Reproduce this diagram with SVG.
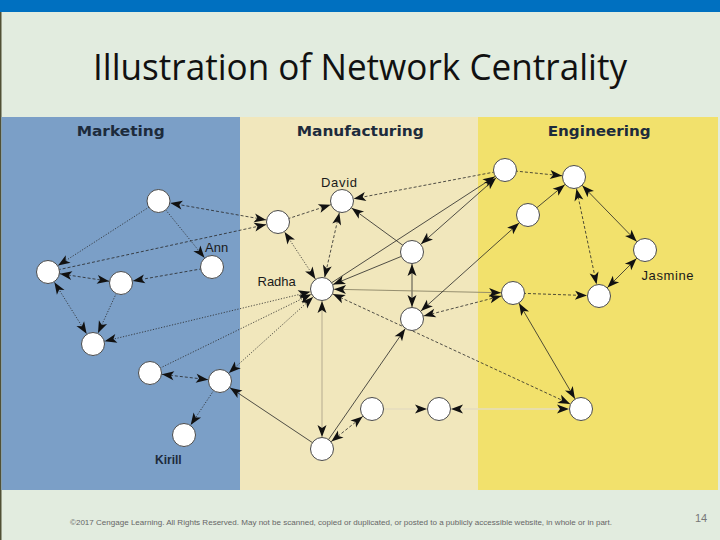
<svg xmlns="http://www.w3.org/2000/svg" width="720" height="540" viewBox="0 0 720 540">
<style>
.c{stroke:#262626;stroke-width:0.8;fill:none}
.dash{stroke-dasharray:3 2}
.dot{stroke-dasharray:1.2 1.6}
.light{stroke:#d3c9a6;stroke-width:2}
.pale{stroke:#e4ddbf;stroke-width:1.6}
.gray{stroke:#8b8466;stroke-width:0.9}
.n circle{fill:#fff;stroke:#4a4a4a;stroke-width:1}
.lbl{font-family:"Liberation Sans",Arial,sans-serif;font-size:13px;fill:#1a1a1a}
.hdr{font-family:"DejaVu Sans",sans-serif;font-weight:bold;font-size:14px;fill:#1d2b3c}
</style>
<defs>
<marker id="ah" markerUnits="userSpaceOnUse" markerWidth="14" markerHeight="10" refX="24" refY="4.5" orient="auto-start-reverse" overflow="visible">
<path d="M0,0 L12,4.5 L0,9 L3,4.5 z" fill="#111"/>
</marker>
</defs>
<rect width="720" height="540" fill="#e2ecdf"/>
<rect width="720" height="12" fill="#0070c0"/>
<rect x="0" y="12" width="1.5" height="528" fill="#505035"/>
<text x="360" y="80" text-anchor="middle" font-family="'Open Sans','Noto Sans',sans-serif" font-size="37" fill="#111" textLength="534" lengthAdjust="spacingAndGlyphs">Illustration of Network Centrality</text>
<g id="panels">
<rect x="1.5" y="117" width="238.5" height="373" fill="#7b9fc7"/>
<rect x="240" y="117" width="238" height="373" fill="#f1e7bc"/>
<rect x="478" y="117" width="240" height="373" fill="#f2e16c"/>
<text class="hdr" x="76.7" y="135.5" textLength="88" lengthAdjust="spacingAndGlyphs">Marketing</text>
<text class="hdr" x="296.7" y="135.5" textLength="127" lengthAdjust="spacingAndGlyphs">Manufacturing</text>
<text class="hdr" x="547.7" y="135.5" textLength="103" lengthAdjust="spacingAndGlyphs">Engineering</text>
</g>
<g id="connectors">
<line class="c dash" x1="278" y1="222" x2="158.5" y2="201" marker-start="url(#ah)" marker-end="url(#ah)"/>
<line class="c dash" x1="48" y1="272" x2="278" y2="222" marker-end="url(#ah)"/>
<line class="c dot" x1="158.5" y1="201" x2="48" y2="272" marker-end="url(#ah)"/>
<line class="c dot" x1="158.5" y1="201" x2="212" y2="267" marker-end="url(#ah)"/>
<line class="c dash" x1="212" y1="267" x2="121" y2="283" marker-end="url(#ah)"/>
<line class="c dash" x1="48" y1="272" x2="121" y2="283" marker-start="url(#ah)" marker-end="url(#ah)"/>
<line class="c dot" x1="48" y1="272" x2="93" y2="344" marker-start="url(#ah)" marker-end="url(#ah)"/>
<line class="c dot" x1="121" y1="283" x2="93" y2="344" marker-end="url(#ah)"/>
<line class="c dot" x1="93" y1="344" x2="322" y2="289" marker-start="url(#ah)" marker-end="url(#ah)"/>
<line class="c dot" x1="150" y1="373" x2="322" y2="289" marker-end="url(#ah)"/>
<line class="c dot" x1="220" y1="381" x2="322" y2="289" marker-start="url(#ah)" marker-end="url(#ah)"/>
<line class="c dash" x1="150" y1="373" x2="220" y2="381" marker-start="url(#ah)" marker-end="url(#ah)"/>
<line class="c dot" x1="220" y1="381" x2="184" y2="435" marker-end="url(#ah)"/>
<line class="c" x1="322" y1="449" x2="220" y2="381" marker-end="url(#ah)"/>
<line class="c dash" x1="278" y1="222" x2="342" y2="201" marker-end="url(#ah)"/>
<line class="c dot" x1="278" y1="222" x2="322" y2="289" marker-start="url(#ah)" marker-end="url(#ah)"/>
<line class="c dash" x1="342" y1="201" x2="322" y2="289" marker-start="url(#ah)" marker-end="url(#ah)"/>
<line class="c dash" x1="505" y1="170" x2="342" y2="201" marker-end="url(#ah)"/>
<line class="c" x1="412" y1="252" x2="342" y2="201" marker-end="url(#ah)"/>
<line class="c" x1="412" y1="252" x2="322" y2="289" marker-end="url(#ah)"/>
<line class="c" x1="322" y1="289" x2="505" y2="170" marker-end="url(#ah)"/>
<line class="c" x1="412" y1="252" x2="505" y2="170" marker-start="url(#ah)" marker-end="url(#ah)"/>
<line class="c" x1="412" y1="252" x2="412" y2="319" marker-start="url(#ah)" marker-end="url(#ah)"/>
<line class="c gray" x1="322" y1="289" x2="513" y2="293" marker-start="url(#ah)" marker-end="url(#ah)"/>
<line class="c" x1="528" y1="215" x2="412" y2="319" marker-start="url(#ah)" marker-end="url(#ah)"/>
<line class="c dash" x1="412" y1="319" x2="513" y2="293" marker-start="url(#ah)" marker-end="url(#ah)"/>
<line class="c dash" x1="322" y1="289" x2="581" y2="409" marker-start="url(#ah)" marker-end="url(#ah)"/>
<line class="c light" x1="322" y1="289" x2="322" y2="449" marker-start="url(#ah)" marker-end="url(#ah)"/>
<line class="c" x1="322" y1="449" x2="412" y2="319" marker-end="url(#ah)"/>
<line class="c dash" x1="322" y1="449" x2="372" y2="409" marker-start="url(#ah)" marker-end="url(#ah)"/>
<line class="c pale" x1="372" y1="409" x2="439" y2="409" marker-end="url(#ah)"/>
<line class="c pale" x1="439" y1="409" x2="581" y2="409" marker-start="url(#ah)" marker-end="url(#ah)"/>
<line class="c dash" x1="505" y1="170" x2="574" y2="177" marker-end="url(#ah)"/>
<line class="c" x1="528" y1="215" x2="574" y2="177" marker-end="url(#ah)"/>
<line class="c" x1="574" y1="177" x2="645" y2="250" marker-start="url(#ah)" marker-end="url(#ah)"/>
<line class="c dash" x1="574" y1="177" x2="599" y2="296" marker-start="url(#ah)" marker-end="url(#ah)"/>
<line class="c" x1="645" y1="250" x2="599" y2="296" marker-start="url(#ah)" marker-end="url(#ah)"/>
<line class="c dash" x1="513" y1="293" x2="599" y2="296" marker-end="url(#ah)"/>
<line class="c" x1="513" y1="293" x2="581" y2="409" marker-start="url(#ah)" marker-end="url(#ah)"/>
</g>
<g id="n-m1" class="n"><circle cx="158.5" cy="201" r="11.5"/></g>
<g id="n-ann" class="n"><circle cx="212" cy="267" r="11.5"/><text class="lbl" x="205" y="252">Ann</text></g>
<g id="n-m3" class="n"><circle cx="48" cy="272" r="11.5"/></g>
<g id="n-m4" class="n"><circle cx="121" cy="283" r="11.5"/></g>
<g id="n-m5" class="n"><circle cx="93" cy="344" r="11.5"/></g>
<g id="n-m6" class="n"><circle cx="150" cy="373" r="11.5"/></g>
<g id="n-m7" class="n"><circle cx="220" cy="381" r="11.5"/></g>
<g id="n-kirill" class="n"><circle cx="184" cy="435" r="11.5"/><text x="155" y="464" font-family="'Liberation Sans',Arial,sans-serif" font-weight="bold" font-size="12" fill="#1d2b3c">Kirill</text></g>
<g id="n-p1" class="n"><circle cx="278" cy="222" r="11.5"/></g>
<g id="n-david" class="n"><circle cx="342" cy="201" r="11.5"/><text class="lbl" x="321" y="187" textLength="36">David</text></g>
<g id="n-radha" class="n"><circle cx="322" cy="289" r="11.5"/><text class="lbl" x="257.5" y="286">Radha</text></g>
<g id="n-n1" class="n"><circle cx="412" cy="252" r="11.5"/></g>
<g id="n-n2" class="n"><circle cx="412" cy="319" r="11.5"/></g>
<g id="n-n3" class="n"><circle cx="372" cy="409" r="11.5"/></g>
<g id="n-n4" class="n"><circle cx="322" cy="449" r="11.5"/></g>
<g id="n-n5" class="n"><circle cx="439" cy="409" r="11.5"/></g>
<g id="n-e1" class="n"><circle cx="505" cy="170" r="11.5"/></g>
<g id="n-e2" class="n"><circle cx="574" cy="177" r="11.5"/></g>
<g id="n-e3" class="n"><circle cx="528" cy="215" r="11.5"/></g>
<g id="n-jasmine" class="n"><circle cx="645" cy="250" r="11.5"/><text class="lbl" x="641.5" y="280" textLength="52">Jasmine</text></g>
<g id="n-e5" class="n"><circle cx="513" cy="293" r="11.5"/></g>
<g id="n-e6" class="n"><circle cx="599" cy="296" r="11.5"/></g>
<g id="n-e7" class="n"><circle cx="581" cy="409" r="11.5"/></g>
<text x="70" y="525" font-family="'Liberation Sans',Arial,sans-serif" font-size="8" fill="#666" textLength="542" lengthAdjust="spacingAndGlyphs">©2017 Cengage Learning. All Rights Reserved. May not be scanned, copied or duplicated, or posted to a publicly accessible website, in whole or in part.</text>
<text x="701" y="522" text-anchor="middle" font-family="'Liberation Sans',Arial,sans-serif" font-size="11" fill="#777">14</text>
</svg>
